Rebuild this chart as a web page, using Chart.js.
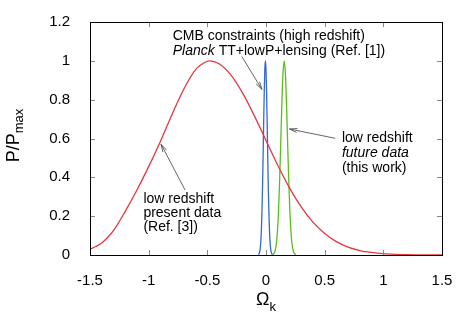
<!DOCTYPE html>
<html><head><meta charset="utf-8">
<script src="https://cdn.jsdelivr.net/npm/chart.js@4.4.0/dist/chart.umd.min.js"></script>
<style>html,body{margin:0;padding:0;background:#fff}#wrap{width:475px;height:333px;position:relative}</style>
</head><body><div id="wrap"><canvas id="c" width="475" height="333"></canvas></div>
<script>
// ---- data ----
const xTicks = [-1.5, -1, -0.5, 0, 0.5, 1, 1.5];
const yTicks = [0, 0.2, 0.4, 0.6, 0.8, 1, 1.2];

// low redshift present data (red)
const redX = [-1.5,-1.45,-1.4,-1.35,-1.3,-1.2,-1.1,-1.0,-0.9,-0.8,-0.7,-0.6,-0.5,-0.48,-0.4,-0.3,-0.2,-0.1,0.0,0.1,0.2,0.3,0.4,0.5,0.6,0.7,0.8,0.9,1.0,1.1,1.2,1.3,1.4,1.5];
const redY = [0.030,0.044,0.062,0.090,0.125,0.225,0.335,0.455,0.585,0.725,0.855,0.955,0.998,1.0,0.985,0.928,0.835,0.718,0.590,0.462,0.346,0.248,0.169,0.111,0.069,0.041,0.023,0.013,0.0066,0.0033,0.0015,0.0007,0.0003,0.0001];

// CMB Planck (blue)
const blueX = [-0.065,-0.06,-0.055,-0.05,-0.045,-0.04,-0.035,-0.03,-0.025,-0.02,-0.015,-0.01,-0.005,0.0,0.005,0.01,0.015,0.02,0.025,0.03,0.035,0.04,0.045,0.05,0.055];
const blueY = [0.002,0.0053,0.0132,0.0301,0.0628,0.120,0.211,0.339,0.501,0.678,0.841,0.958,1.0,0.958,0.841,0.678,0.501,0.339,0.211,0.120,0.0628,0.0301,0.0132,0.0053,0.002];

// low redshift future data (green)
const greenX = [0.055,0.065,0.075,0.085,0.095,0.105,0.115,0.125,0.135,0.145,0.155,0.165,0.175,0.185,0.195,0.205,0.215,0.225,0.235,0.245,0.255];
const greenY = [0.0017,0.0057,0.0169,0.0439,0.1007,0.203,0.361,0.563,0.775,0.938,1.0,0.938,0.775,0.563,0.361,0.203,0.1007,0.0439,0.0169,0.0057,0.0017];

const toPts = (xs, ys) => xs.map((x, i) => ({x: x, y: ys[i]}));

const FONT = "'Liberation Sans', Arial, Helvetica, sans-serif";

function arrow(ctx, x1, y1, x2, y2) {
  const a = Math.atan2(y2 - y1, x2 - x1);
  const L = 8, w = 0.26;
  ctx.beginPath();
  ctx.moveTo(x1, y1); ctx.lineTo(x2, y2);
  ctx.moveTo(x2 - L * Math.cos(a - w), y2 - L * Math.sin(a - w));
  ctx.lineTo(x2, y2);
  ctx.lineTo(x2 - L * Math.cos(a + w), y2 - L * Math.sin(a + w));
  ctx.stroke();
}

const decor = {
  id: 'decor',
  afterDraw(chart) {
    const ctx = chart.ctx, xs = chart.scales.x, ys = chart.scales.y, ca = chart.chartArea;
    const X = v => xs.getPixelForValue(v), Y = v => ys.getPixelForValue(v);
    ctx.save();
    // ticks (inward, mirrored)
    ctx.strokeStyle = '#888'; ctx.lineWidth = 1;
    ctx.beginPath();
    xTicks.forEach(t => { const p = Math.round(X(t)) + 0.5;
      ctx.moveTo(p, ca.bottom); ctx.lineTo(p, ca.bottom - 5);
      ctx.moveTo(p, ca.top); ctx.lineTo(p, ca.top + 5); });
    yTicks.forEach(t => { const p = Math.round(Y(t)) + 0.5;
      ctx.moveTo(ca.left, p); ctx.lineTo(ca.left + 5, p);
      ctx.moveTo(ca.right, p); ctx.lineTo(ca.right - 5, p); });
    ctx.stroke();
    // frame
    ctx.strokeStyle = '#000';
    ctx.strokeRect(Math.round(ca.left) + 0.5, Math.round(ca.top) + 0.5,
      Math.round(ca.right - ca.left), Math.round(ca.bottom - ca.top));

    // annotations
    ctx.fillStyle = '#000'; ctx.textBaseline = 'alphabetic'; ctx.textAlign = 'left';
    const f = (it) => (it ? 'italic ' : '') + '14px ' + FONT;
    function runs(x, y, parts) { let cx = x; parts.forEach(p => { ctx.font = f(p[1]); ctx.fillText(p[0], cx, y); cx += ctx.measureText(p[0]).width; }); }
    runs(X(-0.795), Y(1.105), [['CMB constraints (high redshift)', false]]);
    runs(X(-0.795), Y(1.030), [['Planck', true], [' TT+lowP+lensing (Ref. [1])', false]]);
    runs(X(-1.045), Y(0.268), [['low redshift', false]]);
    runs(X(-1.045), Y(0.197), [['present data', false]]);
    runs(X(-1.045), Y(0.126), [['(Ref. [3])', false]]);
    runs(X(0.647), Y(0.582), [['low redshift', false]]);
    runs(X(0.647), Y(0.507), [['future data', true]]);
    runs(X(0.647), Y(0.430), [['(this work)', false]]);

    ctx.strokeStyle = '#555'; ctx.lineWidth = 0.9;
    arrow(ctx, X(-0.206), Y(1.022), X(-0.035), Y(0.853));
    arrow(ctx, X(-0.690), Y(0.335), X(-0.894), Y(0.570));
    arrow(ctx, X(0.590), Y(0.601), X(0.200), Y(0.649));

    // axis titles
    ctx.fillStyle = '#000';
    // x title: Omega_k
    ctx.font = '18px ' + FONT; const wO = ctx.measureText('\u03A9').width;
    ctx.font = '13px ' + FONT; const wk = ctx.measureText('k').width;
    let cx = (ca.left + ca.right) / 2 - (wO + wk) / 2;
    ctx.font = '18px ' + FONT; ctx.fillText('\u03A9', cx, 305);
    ctx.font = '13px ' + FONT; ctx.fillText('k', cx + wO, 311);
    // y title: P/P_max
    ctx.translate(19, (ca.top + ca.bottom) / 2 - 3);
    ctx.rotate(-Math.PI / 2);
    ctx.font = '18px ' + FONT; const wP = ctx.measureText('P/P').width;
    ctx.font = '13px ' + FONT; const wm = ctx.measureText('max').width;
    let sx = -(wP + wm) / 2;
    ctx.font = '18px ' + FONT; ctx.fillText('P/P', sx, 0);
    ctx.font = '13px ' + FONT; ctx.fillText('max', sx + wP, 4);
    ctx.restore();
  }
};

const ds = (pts, col) => ({ data: pts, borderColor: col, borderWidth: 1.3, pointRadius: 0, showLine: true, fill: false, cubicInterpolationMode: 'monotone' });

new Chart(document.getElementById('c'), {
  type: 'scatter',
  data: { datasets: [
    ds(toPts(redX, redY), '#e8363f'),
    ds(toPts(blueX, blueY), '#3468d8'),
    ds(toPts(greenX, greenY), '#5bbf19')
  ]},
  options: {
    responsive: false, devicePixelRatio: 1, animation: false,
    layout: { padding: { left: 0, right: 33, top: 22, bottom: 0 } },
    plugins: { legend: { display: false }, tooltip: { enabled: false } },
    scales: {
      x: { type: 'linear', min: -1.5, max: 1.5,
        afterBuildTicks: s => { s.ticks = xTicks.map(v => ({value: v})); },
        afterFit: s => { s.height = 78; },
        grid: { display: false }, border: { display: false },
        ticks: { color: '#000', font: { family: FONT, size: 15 }, padding: 9, maxRotation: 0, autoSkip: false, callback: v => String(v) } },
      y: { type: 'linear', min: 0, max: 1.2,
        afterBuildTicks: s => { s.ticks = yTicks.map(v => ({value: v})); },
        afterFit: s => { s.width = 90; },
        grid: { display: false }, border: { display: false },
        ticks: { color: '#000', font: { family: FONT, size: 15 }, padding: 12, autoSkip: false, callback: v => String(v) } }
    }
  },
  plugins: [decor]
});
</script></body></html>
